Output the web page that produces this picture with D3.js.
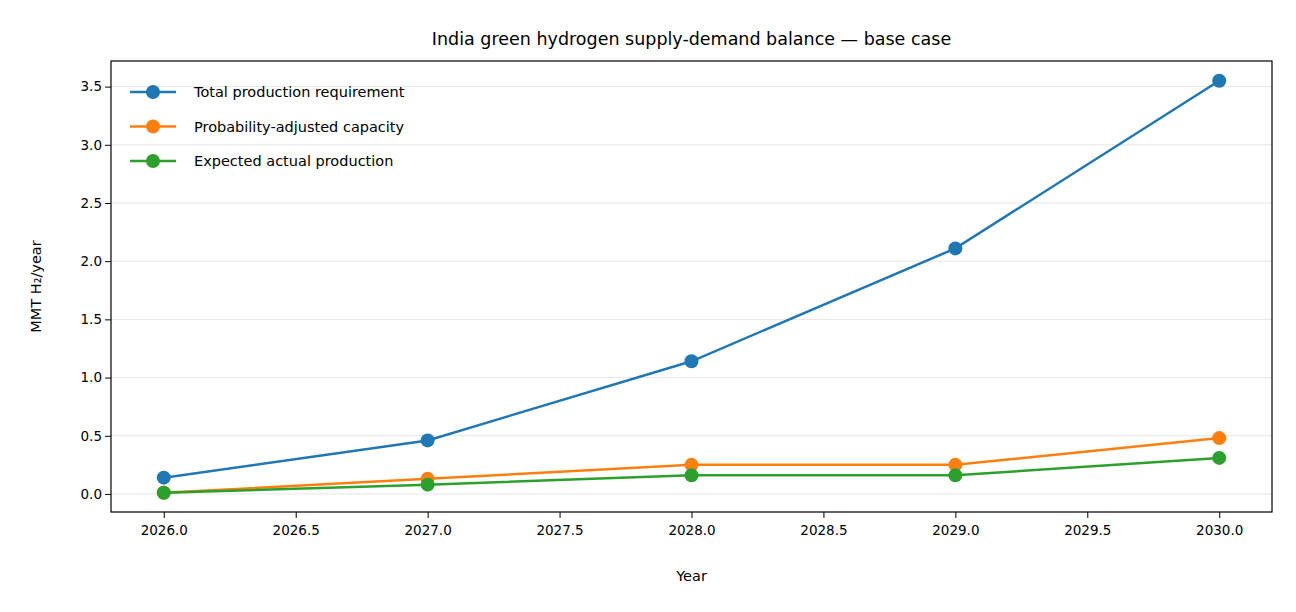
<!DOCTYPE html>
<html>
<head>
<meta charset="utf-8">
<script src="https://cdn.jsdelivr.net/npm/d3@7"></script>
<style>
  body { margin: 0; background: #fff; }
  text { font-family: "DejaVu Sans", sans-serif; }
</style>
</head>
<body>
<svg id="chart" width="1296" height="612"></svg>
<script>
const years = [2026, 2027, 2028, 2029, 2030];
const totalRequirement = [0.14, 0.46, 1.14, 2.11, 3.55];
const adjustedCapacity = [0.01, 0.13, 0.25, 0.25, 0.48];
const expectedProduction = [0.01, 0.08, 0.16, 0.16, 0.31];
const seriesNames = ['Total production requirement', 'Probability-adjusted capacity', 'Expected actual production'];
const colors = ['#1f77b4', '#ff7f0e', '#2ca02c'];
const xTicks = [2026, 2026.5, 2027, 2027.5, 2028, 2028.5, 2029, 2029.5, 2030];
const yTicks = [0, 0.5, 1, 1.5, 2, 2.5, 3, 3.5];

const plotL = 111, plotR = 1272, plotT = 61, plotB = 512;
const svg = d3.select('#chart');

const x = d3.scaleLinear().domain([2025.8, 2030.2]).range([plotL, plotR]);
const y = d3.scaleLinear().domain([-0.155, 3.72]).range([plotB, plotT]);

// grid
svg.append('g').selectAll('line').data(yTicks).join('line')
  .attr('x1', plotL).attr('x2', plotR)
  .attr('y1', d => y(d)).attr('y2', d => y(d))
  .attr('stroke', '#e6e6e6').attr('stroke-width', 1);

const xAxis = svg.append('g').attr('transform', `translate(0,${plotB})`)
  .call(d3.axisBottom(x).tickValues(xTicks).tickFormat(d3.format('.1f')).tickSizeOuter(0));
const yAxis = svg.append('g').attr('transform', `translate(${plotL},0)`)
  .call(d3.axisLeft(y).tickValues(yTicks).tickFormat(d3.format('.1f')).tickSizeOuter(0));
[xAxis, yAxis].forEach(a => {
  a.select('.domain').remove();
  a.selectAll('text').attr('font-size', 13.5).attr('fill', '#000');
  a.selectAll('line').attr('stroke', '#000');
});
xAxis.selectAll('text').attr('dy', '1.0em');

svg.append('rect').attr('x', plotL).attr('y', plotT)
  .attr('width', plotR - plotL).attr('height', plotB - plotT)
  .attr('fill', 'none').attr('stroke', '#000').attr('stroke-width', 1.2);

const series = [totalRequirement, adjustedCapacity, expectedProduction];
const line = d3.line().x((d, i) => x(years[i])).y(d => y(d));
series.forEach((vals, k) => {
  svg.append('path').datum(vals).attr('d', line)
    .attr('fill', 'none').attr('stroke', colors[k]).attr('stroke-width', 2.5);
  svg.append('g').selectAll('circle').data(vals).join('circle')
    .attr('cx', (d, i) => x(years[i])).attr('cy', d => y(d))
    .attr('r', 7).attr('fill', colors[k]);
});

// legend
seriesNames.forEach((name, k) => {
  const ly = 92 + k * 34.5;
  svg.append('line').attr('x1', 130).attr('x2', 176).attr('y1', ly).attr('y2', ly)
    .attr('stroke', colors[k]).attr('stroke-width', 2.5);
  svg.append('circle').attr('cx', 153).attr('cy', ly).attr('r', 7).attr('fill', colors[k]);
  svg.append('text').attr('x', 194).attr('y', ly + 5).attr('font-size', 14.5).text(name);
});

svg.append('text').attr('x', (plotL + plotR) / 2).attr('y', 45)
  .attr('text-anchor', 'middle').attr('font-size', 17.5)
  .text('India green hydrogen supply-demand balance — base case');
svg.append('text').attr('x', (plotL + plotR) / 2).attr('y', 581)
  .attr('text-anchor', 'middle').attr('font-size', 14.5).text('Year');
svg.append('text').attr('transform', `translate(41,${(plotT + plotB) / 2}) rotate(-90)`)
  .attr('text-anchor', 'middle').attr('font-size', 14.5).text('MMT H₂/year');
</script>
</body>
</html>
